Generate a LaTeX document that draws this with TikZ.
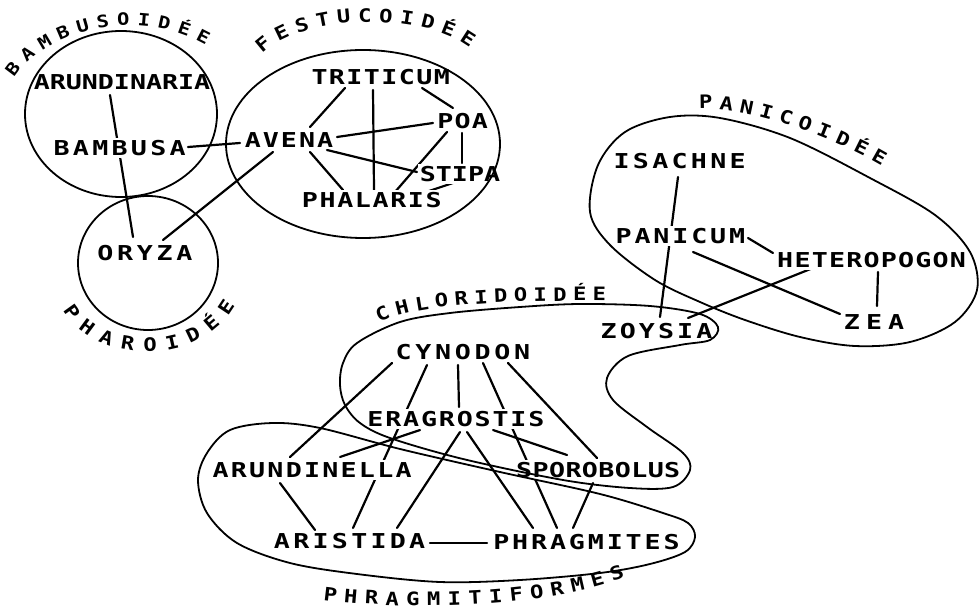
\documentclass[tikz,border=0pt]{standalone}
\usepackage{fontspec}
\usetikzlibrary{decorations.text,backgrounds}
\newfontfamily\monolab{DejaVu Sans Mono}[FakeStretch=1.3, BoldFont={DejaVu Sans Mono Bold}]
\newfontfamily\monogrp{DejaVu Sans Mono}[FakeStretch=1.2, BoldFont={DejaVu Sans Mono Bold}]
\newcommand\labfont{\monolab\bfseries\fontsize{20.5pt}{24pt}\selectfont}
\newcommand\grpfont{\monogrp\bfseries\fontsize{18.5pt}{22pt}\selectfont}
\newcommand\grpsmall{\monogrp\bfseries\fontsize{17pt}{20pt}\selectfont}
\newcommand\lsp[2]{{\addfontfeature{LetterSpace=#1}#2\kern-\dimexpr\fontdimen6\font*#1/100\relax}}
\begin{document}
\begin{tikzpicture}[x=1pt,y=-1pt,
  lab/.style={font=\labfont, fill=white, inner sep=2pt},
  con/.style={line width=2.2pt, line cap=round},
  grp/.style={line width=1.8pt},
  grplabel/.style={decorate, decoration={text along path, text align=fit to path}}]
\useasboundingbox (0,0) rectangle (979,612);
% nodes
\node[lab] (aria) at (122,82) {\lsp{0}{ARUNDINARIA}};
\node[lab] (bamb) at (118,148) {\lsp{16}{BAMBUSA}};
\node[lab] (aven) at (288,140) {\lsp{10}{AVENA}};
\node[lab] (trit) at (380,77) {\lsp{7}{TRITICUM}};
\node[lab] (poa) at (462,121) {\lsp{6}{POA}};
\node[lab] (stip) at (460,174) {\lsp{0}{STIPA}};
\node[lab] (phal) at (371,200) {\lsp{8}{PHALARIS}};
\node[lab] (oryz) at (143,253) {\lsp{18}{ORYZA}};
\node[lab] (isac) at (678,161) {\lsp{16}{ISACHNE}};
\node[lab] (pani) at (679,236) {\lsp{14}{PANICUM}};
\node[lab] (hete) at (871,260) {\lsp{6}{HETEROPOGON}};
\node[lab] (zea) at (871,322) {\lsp{30}{ZEA}};
\node[lab] (zoys) at (655,331) {\lsp{15}{ZOYSIA}};
\node[lab] (cyno) at (461,352) {\lsp{18}{CYNODON}};
\node[lab] (erag) at (455,419) {\lsp{9}{ERAGROSTIS}};
\node[lab] (arue) at (311,470) {\lsp{11}{ARUNDINELLA}};
\node[lab] (spor) at (598,470) {\lsp{2}{SPOROBOLUS}};
\node[lab] (aris) at (348,541) {\lsp{16}{ARISTIDA}};
\node[lab] (phra) at (585,542) {\lsp{14}{PHRAGMITES}};
% connectors behind the labels
\begin{pgfonlayer}{background}
\fill[white] (0,0) rectangle (979,612);
\draw[con] ([shift={(-12,13)}]aria.center) -- ([shift={(-10,-16)}]oryz.center);
\draw[con] ([shift={(70,-1)}]bamb.center) -- ([shift={(-48,3)}]aven.center);
\draw[con] ([shift={(-15,12)}]aven.center) -- ([shift={(20,-13)}]oryz.center);
\draw[con] ([shift={(-35,11)}]trit.center) -- ([shift={(22,-13)}]aven.center);
\draw[con] ([shift={(-7,13)}]trit.center) -- ([shift={(3,-10)}]phal.center);
\draw[con] ([shift={(42,11)}]trit.center) -- ([shift={(-9,-13)}]poa.center);
\draw[con] ([shift={(49,-3)}]aven.center) -- ([shift={(-29,2)}]poa.center);
\draw[con] ([shift={(39,10)}]aven.center) -- ([shift={(-43,-2)}]stip.center);
\draw[con] ([shift={(22,12)}]aven.center) -- ([shift={(-28,-10)}]phal.center);
\draw[con] ([shift={(-15,11)}]poa.center) -- ([shift={(24,-8)}]phal.center);
\draw[con] ([shift={(0,12)}]poa.center) -- ([shift={(2,-11)}]stip.center);
\draw[con] ([shift={(-7,9)}]stip.center) -- ([shift={(52,-7)}]phal.center);
\draw[con] ([shift={(0,16)}]isac.center) -- ([shift={(5,-14)}]zoys.center);
\draw[con] ([shift={(69,2)}]pani.center) -- ([shift={(-98,-7)}]hete.center);
\draw[con] ([shift={(14,16)}]pani.center) -- ([shift={(-31,-8)}]zea.center);
\draw[con] ([shift={(-58,8)}]hete.center) -- ([shift={(33,-13)}]zoys.center);
\draw[con] ([shift={(7,12)}]hete.center) -- ([shift={(6,-16)}]zea.center);
\draw[con] ([shift={(-69,11)}]cyno.center) -- ([shift={(-21,-13)}]arue.center);
\draw[con] ([shift={(-34,13)}]cyno.center) -- ([shift={(5,-13)}]aris.center);
\draw[con] ([shift={(-3,13)}]cyno.center) -- ([shift={(4,-12)}]erag.center);
\draw[con] ([shift={(22,11)}]cyno.center) -- ([shift={(-28,-14)}]phra.center);
\draw[con] ([shift={(47,11)}]cyno.center) -- ([shift={(-1,-12)}]spor.center);
\draw[con] ([shift={(-35,11)}]erag.center) -- ([shift={(29,-13)}]arue.center);
\draw[con] ([shift={(5,13)}]erag.center) -- ([shift={(49,-13)}]aris.center);
\draw[con] ([shift={(12,13)}]erag.center) -- ([shift={(-52,-14)}]phra.center);
\draw[con] ([shift={(38,11)}]erag.center) -- ([shift={(-31,-15)}]spor.center);
\draw[con] ([shift={(-31,13)}]arue.center) -- ([shift={(-33,-11)}]aris.center);
\draw[con] ([shift={(-5,13)}]spor.center) -- ([shift={(-12,-14)}]phra.center);
\draw[con] ([shift={(82,2)}]aris.center) -- ([shift={(-98,1)}]phra.center);
\end{pgfonlayer}
% group boundaries
\draw[grp] (121,114) ellipse [x radius=96pt, y radius=83pt];
\draw[grp] (363,144) ellipse [x radius=137pt, y radius=94pt];
\draw[grp] (148,263) ellipse [x radius=70pt, y radius=67pt];
\draw[grp] plot[smooth cycle, tension=0.55] coordinates {
  (590,212) (598,165) (625,132) (670,117) (720,118) (790,138) (870,178)
  (935,215) (970,252) (977,290) (955,322) (910,342) (855,346) (800,337)
  (745,320) (700,302) (655,280) (610,245)};
\draw[grp] plot[smooth cycle, tension=0.55] coordinates {
  (400,322) (450,313) (520,307) (580,304) (650,306) (700,314) (718,327)
  (710,340) (680,345) (628,356) (607,378) (613,400) (647,427) (683,453)
  (690,470) (673,487) (630,488) (563,480) (463,459) (390,438) (360,423)
  (345,405) (340,385) (343,363) (357,343)};
\draw[grp] plot[smooth cycle, tension=0.55] coordinates {
  (273,423) (320,428) (400,449) (500,472) (600,494) (663,513) (688,523)
  (695,537) (685,552) (650,564) (600,573) (520,580) (440,582) (357,574)
  (290,563) (237,543) (207,513) (198,480) (207,453) (230,430)};
% group names
\path[grplabel, decoration={text={|\grpsmall|BAMBUSOIDÉE}}]
  (14,78) .. controls (40,36) and (130,2) .. (206,45);
\path[grplabel, decoration={text={|\grpfont|FESTUCOIDÉE}}]
  (262,54) .. controls (300,15) and (420,10) .. (470,48);
\path[grplabel, decoration={text={|\grpfont|PHAROIDÉE}}]
  (63,310) .. controls (95,365) and (200,368) .. (235,305);
\path[grplabel, decoration={text={|\grpfont|PANICOIDÉE}}]
  (699,109) .. controls (740,105) and (830,135) .. (882,166);
\path[grplabel, decoration={text={|\grpfont|CHLORIDOIDÉE}}]
  (379,323) .. controls (410,305) and (500,300) .. (606,301);
\path[grplabel, decoration={text={|\grpfont|PHRAGMITIFORMES}}]
  (323,600) .. controls (400,610) and (540,610) .. (625,577);
\end{tikzpicture}
\end{document}
